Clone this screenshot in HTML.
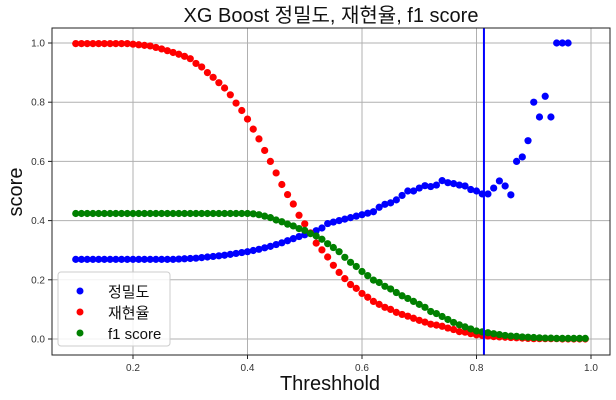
<!DOCTYPE html>
<html><head><meta charset="utf-8"><style>
html,body{margin:0;padding:0;background:#fff;}
svg{display:block;font-family:"Liberation Sans","Noto Sans CJK KR",sans-serif;}
</style></head><body>
<svg id="chart" width="616" height="400" viewBox="0 0 616 400">
<text x="331" y="22" font-size="20" text-anchor="middle" fill="#111">XG Boost 정밀도, 재현율, f1 score</text>
<text x="330" y="390" font-size="20" text-anchor="middle" fill="#111">Threshhold</text>
<text transform="translate(22,192) rotate(-90)" font-size="20" text-anchor="middle" fill="#111">score</text>
<g id="grid"></g><g id="ticks"></g><g id="marks"></g>
<rect x="52" y="28" width="558" height="327" fill="none" stroke="#222" stroke-width="1"/>
<g>
<rect x="58" y="272" width="112" height="74" rx="3" fill="#fff" fill-opacity="0.85" stroke="#ccc"/>
<g><circle cx="80" cy="291" r="3.5" fill="#0000ff"/><text x="108" y="297" font-size="15" fill="#111">정밀도</text></g>
<g><circle cx="80" cy="312" r="3.5" fill="#ff0000"/><text x="108" y="318" font-size="15" fill="#111">재현율</text></g>
<g><circle cx="80" cy="333" r="3.5" fill="#008000"/><text x="108" y="339" font-size="15" fill="#111">f1 score</text></g>
</g>
</svg>
<script>
const thresholds = [];
for (let i = 10; i <= 99; i++) thresholds.push(i / 100);
const precision = [0.269,0.269,0.269,0.269,0.269,0.269,0.269,0.269,0.269,0.269,
0.269,0.269,0.269,0.269,0.269,0.269,0.269,0.269,0.27,0.271,
0.272,0.273,0.275,0.277,0.279,0.281,0.283,0.286,0.289,0.292,
0.295,0.299,0.303,0.308,0.313,0.319,0.325,0.332,0.339,0.346,
0.352,0.358,0.366,0.375,0.39,0.395,0.40,0.405,0.41,0.415,
0.42,0.425,0.43,0.445,0.455,0.46,0.47,0.485,0.50,0.50,
0.51,0.518,0.515,0.52,0.535,0.528,0.525,0.52,0.517,0.505,
0.50,0.49,0.49,0.51,0.534,0.517,0.487,0.60,0.615,0.67,
0.80,0.75,0.82,0.75,1.0,1.0,1.0,null,null,null];
const recall = [0.998,0.998,0.998,0.998,0.998,0.998,0.998,0.998,0.998,0.998,
0.996,0.994,0.992,0.99,0.985,0.98,0.974,0.968,0.962,0.955,
0.947,0.931,0.919,0.90,0.884,0.866,0.848,0.825,0.797,0.772,
0.743,0.709,0.676,0.637,0.60,0.561,0.522,0.488,0.456,0.418,
0.389,0.358,0.324,0.301,0.277,0.249,0.225,0.204,0.184,0.171,
0.154,0.141,0.127,0.117,0.107,0.10,0.09,0.083,0.077,0.07,
0.063,0.057,0.05,0.047,0.043,0.037,0.032,0.025,0.023,0.018,
0.014,0.012,0.01,0.008,0.007,0.006,0.005,0.004,0.003,0.002,
0.001,0.001,0.001,0.001,0.001,0.0,0.0,0.0,0.0,0.0];
const f1 = [0.424,0.424,0.424,0.424,0.424,0.424,0.424,0.424,0.424,0.424,
0.424,0.424,0.424,0.424,0.424,0.424,0.424,0.424,0.424,0.424,
0.424,0.424,0.424,0.424,0.424,0.424,0.424,0.424,0.424,0.424,
0.424,0.423,0.42,0.415,0.41,0.402,0.396,0.388,0.382,0.373,
0.367,0.356,0.348,0.337,0.322,0.309,0.295,0.276,0.259,0.245,
0.228,0.214,0.199,0.191,0.178,0.169,0.157,0.146,0.137,0.127,
0.117,0.107,0.093,0.086,0.076,0.066,0.056,0.048,0.041,0.034,
0.027,0.024,0.021,0.018,0.015,0.012,0.01,0.009,0.007,0.006,
0.005,0.004,0.003,0.003,0.002,0.002,0.002,0.002,0.002,0.002];
const xTicks = [0.2,0.4,0.6,0.8,1.0];
const xTickLabels = ["0.2","0.4","0.6","0.8","1.0"];
const yTicks = [0.0,0.2,0.4,0.6,0.8,1.0];
const yTickLabels = ["0.0","0.2","0.4","0.6","0.8","1.0"];
const cutoff = [0.813];

const NS = "http://www.w3.org/2000/svg";
const xs = v => 18.5 + 572.5 * v;
const ys = v => 339 - 296 * v;
function mk(tag, attrs, parent) {
  const e = document.createElementNS(NS, tag);
  for (const k in attrs) e.setAttribute(k, attrs[k]);
  parent.appendChild(e);
  return e;
}
const grid = document.getElementById('grid');
const ticks = document.getElementById('ticks');
const marks = document.getElementById('marks');
xTicks.forEach((t, i) => {
  const g = mk('line', {x1: xs(t), x2: xs(t), y1: 28, y2: 355, stroke: '#b0b0b0', 'stroke-width': 1}, grid);
  
  
  mk('line', {x1: xs(t), x2: xs(t), y1: 355, y2: 359, stroke: '#222'}, ticks);
  const lb = mk('text', {x: xs(t), y: 371, 'font-size': 10, 'text-anchor': 'middle', fill: '#333'}, ticks);
  lb.textContent = xTickLabels[i];
  
  
});
yTicks.forEach((t, i) => {
  const g = mk('line', {x1: 52, x2: 610, y1: ys(t), y2: ys(t), stroke: '#b0b0b0', 'stroke-width': 1}, grid);
  
  
  mk('line', {x1: 48, x2: 52, y1: ys(t), y2: ys(t), stroke: '#222'}, ticks);
  const lb = mk('text', {x: 45, y: ys(t) + 3.5, 'font-size': 10, 'text-anchor': 'end', fill: '#333'}, ticks);
  lb.textContent = yTickLabels[i];
  
  
});
function series(vals, color, name) {
  const g = mk('g', {}, marks);
  
  
  vals.forEach((v, i) => {
    if (v === null) return;
    const c = mk('circle', {cx: xs(thresholds[i]), cy: ys(v), r: 3.6, fill: color}, g);
    
    
  });
}
series(precision, '#0000ff', 'precision-series');
series(recall, '#ff0000', 'recall-series');
series(f1, '#008000', 'f1-series');
cutoff.forEach(c => {
  const l = mk('line', {x1: xs(c), x2: xs(c), y1: 28, y2: 355, stroke: '#0000ff', 'stroke-width': 2}, marks);
  
  
});
</script>
</body></html>
